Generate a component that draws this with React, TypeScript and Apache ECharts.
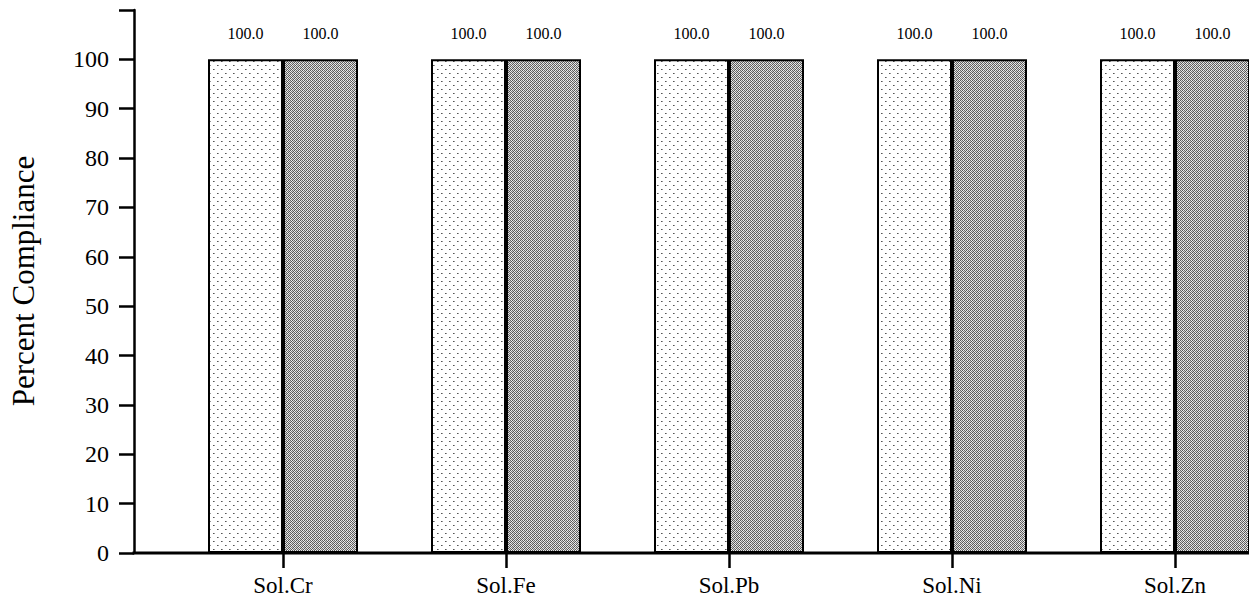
import React, { useEffect, useRef } from "react";
import * as echarts from "echarts";

const categories = ["Sol.Cr", "Sol.Fe", "Sol.Pb", "Sol.Ni", "Sol.Zn"];
const seriesA = [100.0, 100.0, 100.0, 100.0, 100.0];
const seriesB = [100.0, 100.0, 100.0, 100.0, 100.0];
const yTicks = [0, 10, 20, 30, 40, 50, 60, 70, 80, 90, 100];

const FONT = "'Liberation Serif', 'Times New Roman', serif";

function makeLightPattern() {
  const c = document.createElement("canvas");
  c.width = 8;
  c.height = 8;
  const ctx = c.getContext("2d")!;
  ctx.fillStyle = "#ffffff";
  ctx.fillRect(0, 0, 8, 8);
  ctx.fillStyle = "#555555";
  ctx.fillRect(1, 1, 1, 1);
  ctx.fillRect(5, 5, 1, 1);
  ctx.fillStyle = "#999999";
  ctx.fillRect(2, 1, 1, 1);
  ctx.fillRect(6, 5, 1, 1);
  return c;
}

function makeDarkPattern() {
  const c = document.createElement("canvas");
  c.width = 4;
  c.height = 4;
  const ctx = c.getContext("2d")!;
  const px = [
    ["#555", "#ddd", "#666", "#eee"],
    ["#eee", "#777", "#ccc", "#555"],
    ["#666", "#ddd", "#555", "#eee"],
    ["#ccc", "#555", "#eee", "#777"],
  ];
  for (let y = 0; y < 4; y++)
    for (let x = 0; x < 4; x++) {
      ctx.fillStyle = px[y][x];
      ctx.fillRect(x, y, 1, 1);
    }
  return c;
}

export default function App() {
  const ref = useRef<HTMLDivElement>(null);
  useEffect(() => {
    if (!ref.current) return;
    const chart = echarts.init(ref.current, null, { renderer: "svg" });
    const light = { image: makeLightPattern(), repeat: "repeat" };
    const dark = { image: makeDarkPattern(), repeat: "repeat" };
    const labelCfg = {
      show: true,
      position: "top",
      distance: 18,
      color: "#000",
      fontFamily: FONT,
      fontSize: 16,
      formatter: (p: any) => Number(p.value).toFixed(1),
    };
    chart.setOption({
      animation: false,
      backgroundColor: "#ffffff",
      grid: {
        left: 171.5,
        right: -37.5,
        top: 10,
        bottom: 50,
        containLabel: false,
        outerBoundsMode: "none",
      },
      xAxis: {
        type: "category",
        data: categories,
        axisLine: { show: false },
        axisTick: { show: true, alignWithLabel: true, length: 15, lineStyle: { color: "#000", width: 2.5 } },
        axisLabel: { color: "#000", fontFamily: FONT, fontSize: 23, margin: 21 },
      },
      yAxis: {
        type: "value",
        min: 0,
        max: 110,
        interval: 10,
        offset: 37.5,
        axisLine: { show: true, lineStyle: { color: "#000", width: 2.5 } },
        axisTick: { show: true, length: 15, lineStyle: { color: "#000", width: 2.5 } },
        splitLine: { show: false },
        axisLabel: {
          color: "#000",
          fontFamily: FONT,
          fontSize: 24,
          margin: 25,
          formatter: (v: number) => (yTicks.includes(v) ? String(v) : ""),
        },
      },
      graphic: [
        {
          type: "line",
          shape: { x1: 132.5, y1: 553, x2: 1249, y2: 553 },
          style: { stroke: "#000", lineWidth: 3 },
          z: 10,
        },
        {
          type: "text",
          x: 23,
          y: 281,
          rotation: Math.PI / 2,
          style: {
            text: "Percent Compliance",
            fontFamily: FONT,
            fontSize: 31,
            fill: "#000",
            align: "center",
            verticalAlign: "middle",
          },
        },
      ],
      series: [
        {
          type: "bar",
          data: seriesA,
          barWidth: 75,
          barGap: "0%",
          itemStyle: { color: light, borderColor: "#000", borderWidth: 2 },
          label: labelCfg,
        },
        {
          type: "bar",
          data: seriesB,
          barWidth: 75,
          barGap: "0%",
          itemStyle: { color: dark, borderColor: "#000", borderWidth: 2 },
          label: labelCfg,
        },
      ],
    });
    return () => chart.dispose();
  }, []);
  return (
    <div
      ref={ref}
      style={{ position: "fixed", left: 0, top: 0, width: 1249, height: 603, background: "#fff" }}
    />
  );
}
